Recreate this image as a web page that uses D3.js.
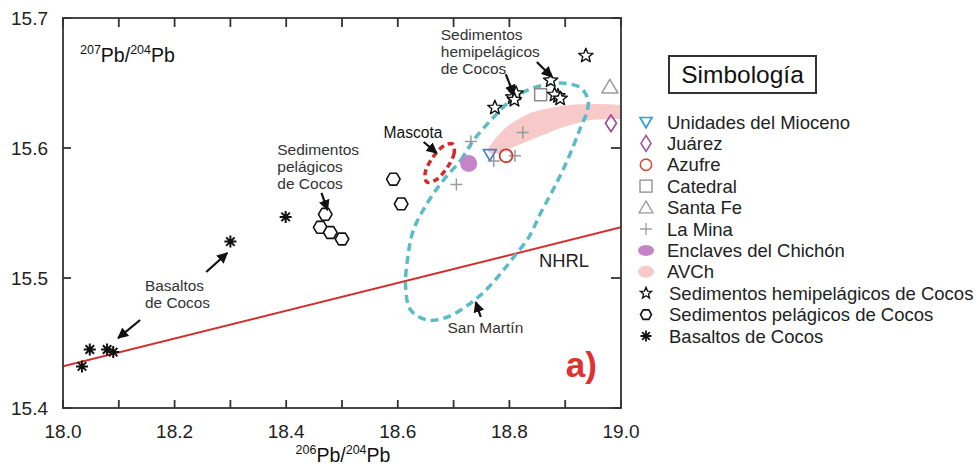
<!DOCTYPE html>
<html><head><meta charset="utf-8">
<script src="https://cdn.jsdelivr.net/npm/d3@7"></script>
<style>body{margin:0;background:#fff;}svg{display:block;font-family:"Liberation Sans",Arial,sans-serif;}</style>
</head><body>
<svg id="c" width="979" height="467"></svg>
<script>
// ---------- data ----------
const xTickLabels = ["18.0","18.2","18.4","18.6","18.8","19.0"];
const xTickValues = [18.0,18.1,18.2,18.3,18.4,18.5,18.6,18.7,18.8,18.9,19.0];
const yTickLabels = ["15.4","15.5","15.6","15.7"];

const basaltos = [[18.034,15.432],[18.048,15.445],[18.079,15.445],[18.090,15.443],[18.300,15.528],[18.399,15.547]];
const pelagicos = [[18.470,15.549],[18.461,15.539],[18.479,15.535],[18.500,15.530],[18.592,15.576],[18.606,15.557]];
const hemipelagicos = [[18.937,15.671],[18.874,15.652],[18.806,15.639],[18.812,15.642],[18.809,15.637],[18.887,15.640],[18.881,15.641],[18.891,15.638],[18.774,15.631]];
const mioceno = [[18.765,15.595]];
const juarez = [[18.982,15.619]];
const azufre = [[18.794,15.594]];
const catedral = [[18.856,15.641]];
const santaFe = [[18.980,15.647]];
const laMina = [[18.731,15.605],[18.824,15.612],[18.810,15.594],[18.772,15.590],[18.705,15.572]];
const enclaves = [[18.727,15.588]];
const avch = [[18.761,15.5985],[18.776,15.6077],[18.797,15.6169],[18.838,15.6269],[18.892,15.6323],[18.946,15.6338],[19.009,15.6323],[19.009,15.6231],[18.946,15.6215],[18.892,15.6154],[18.838,15.6062],[18.794,15.5985],[18.770,15.5954]];
const sanMartin = [[18.682,15.5754],[18.713,15.5908],[18.736,15.6062],[18.767,15.6215],[18.803,15.6369],[18.833,15.6446],[18.863,15.6485],[18.892,15.6500],[18.928,15.6462],[18.941,15.6369],[18.939,15.6277],[18.928,15.6162],[18.914,15.6008],[18.896,15.5831],[18.878,15.5677],[18.856,15.5500],[18.835,15.5315],[18.808,15.5162],[18.785,15.5038],[18.758,15.4908],[18.731,15.4808],[18.689,15.4700],[18.653,15.4677],[18.623,15.4754],[18.614,15.4931],[18.618,15.5162],[18.628,15.5369],[18.653,15.5577]];
const mascota = [[18.698,15.6031],[18.701,15.5962],[18.688,15.5846],[18.668,15.5754],[18.652,15.5738],[18.649,15.5808],[18.662,15.5923],[18.682,15.6015]];
const nhrl = [[18.0,15.432],[19.0,15.539]];

const arrows = [
  [[18.7935,15.6569],[18.8079,15.6408]],
  [[18.8492,15.6662],[18.8761,15.6546]],
  [[18.4632,15.5654],[18.4740,15.5523]],
  [[18.6463,15.6046],[18.6697,15.5962]],
  [[18.2567,15.5046],[18.2944,15.5192]],
  [[18.1382,15.4677],[18.0987,15.4538]],
  [[18.7487,15.4700],[18.7397,15.4815]]
];
const labels = [
  {t:["Sedimentos","hemipelágicos","de Cocos"], p:[18.677,15.683], size:15.5, fill:"#333"},
  {t:["Sedimentos","pelágicos","de Cocos"], p:[18.384,15.5946], size:15.5, fill:"#333"},
  {t:["Mascota"], p:[18.5745,15.6077], size:15.6, fill:"#111"},
  {t:["Basaltos","de Cocos"], p:[18.147,15.490], size:15.4, fill:"#333"},
  {t:["NHRL"], p:[18.853,15.5085], size:18.4, fill:"#222"},
  {t:["San Martín"], p:[18.689,15.4577], size:15.5, fill:"#333"}
];
const legendItems = ["Unidades del Mioceno","Juárez","Azufre","Catedral","Santa Fe","La Mina","Enclaves del Chichón","AVCh","Sedimentos hemipelágicos de Cocos","Sedimentos pelágicos de Cocos","Basaltos de Cocos"];

// ---------- drawing ----------
const svg = d3.select("#c");
const L=63,R=621,T=18,B=408;
const x = d3.scaleLinear().domain([18,19]).range([L,R]);
const y = d3.scaleLinear().domain([15.4,15.7]).range([B,T]);

const defs = svg.append("defs");
defs.append("clipPath").attr("id","clip").append("rect").attr("x",L).attr("y",T).attr("width",R-L).attr("height",B-T);
defs.append("marker").attr("id","ah").attr("viewBox","0 0 10 10").attr("refX",9).attr("refY",5)
  .attr("markerWidth",5).attr("markerHeight",5).attr("orient","auto").attr("markerUnits","strokeWidth")
  .append("path").attr("d","M0,0L10,5L0,10z").attr("fill","#111");

const plot = svg.append("g").attr("clip-path","url(#clip)");

// symbol generators
function starPath(ro,ri){let p=[];for(let i=0;i<10;i++){const a=-Math.PI/2+i*Math.PI/5;const r=i%2?ri:ro;p.push([r*Math.cos(a),r*Math.sin(a)]);}return "M"+p.map(d=>d.join(",")).join("L")+"Z";}
function hexPath(r){let p=[];for(let i=0;i<6;i++){const a=i*Math.PI/3;p.push([r*Math.cos(a),r*Math.sin(a)*1.0]);}return "M"+p.map(d=>d.join(",")).join("L")+"Z";}
function asteriskPath(r){let s="";for(let i=0;i<4;i++){const a=i*Math.PI/4;s+=`M${-r*Math.cos(a)},${-r*Math.sin(a)}L${r*Math.cos(a)},${r*Math.sin(a)}`;}return s;}
function triDown(s){return `M${-s},${-s*0.75}L${s},${-s*0.75}L0,${s*0.95}Z`;}
function triUp(s){return `M0,${-s*0.95}L${s},${s*0.75}L${-s},${s*0.75}Z`;}
function diamond(w,h){return `M0,${-h}L${w},0L0,${h}L${-w},0Z`;}
function crossPath(r){return `M${-r},0L${r},0M0,${-r}L0,${r}`;}

// AVCh area
plot.append("path").datum(avch).attr("d",d3.line().x(d=>x(d[0])).y(d=>y(d[1])).curve(d3.curveCardinalClosed.tension(0.3)))
  .attr("fill","#f7c9c9").attr("stroke","none");

// NHRL
plot.append("path").datum(nhrl).attr("d",d3.line().x(d=>x(d[0])).y(d=>y(d[1])))
  .attr("stroke","#d42d2d").attr("stroke-width",2).attr("fill","none");

// San Martín
plot.append("path").datum(sanMartin).attr("d",d3.line().x(d=>x(d[0])).y(d=>y(d[1])).curve(d3.curveCatmullRomClosed))
  .attr("fill","none").attr("stroke","#5bbcc6").attr("stroke-width",3.5).attr("stroke-dasharray","8,5");

// Mascota
plot.append("path").datum(mascota).attr("d",d3.line().x(d=>x(d[0])).y(d=>y(d[1])).curve(d3.curveCatmullRomClosed))
  .attr("fill","none").attr("stroke","#d42a2a").attr("stroke-width",3.5).attr("stroke-dasharray","6,4");

// Enclaves
plot.selectAll(".enc").data(enclaves).join("circle").attr("cx",d=>x(d[0])).attr("cy",d=>y(d[1])).attr("r",8.5).attr("fill","#c485c8");

function pts(data,d,style){
  const g=plot.append("g");
  g.selectAll("path").data(data).join("path").attr("transform",p=>`translate(${x(p[0])},${y(p[1])})`).attr("d",d)
   .attr("fill",style.fill||"none").attr("stroke",style.stroke).attr("stroke-width",style.sw||1.5).attr("stroke-linejoin","round");
}
pts(laMina,crossPath(6),{stroke:"#9a9a9a",sw:1.5});
pts(mioceno,triDown(6.5),{stroke:"#4a7cc0",sw:1.7,fill:"none"});
pts(azufre,d3.symbol(d3.symbolCircle,130)(),{stroke:"#d23b35",sw:1.8});
pts(catedral,"M-6,-6H6V6H-6Z",{stroke:"#8a8a8a",sw:1.5});
pts(santaFe,triUp(8),{stroke:"#9a9a9a",sw:1.5});
pts(juarez,diamond(5.5,8.5),{stroke:"#9b4c9b",sw:1.6});
pts(hemipelagicos,starPath(7.5,3.2),{stroke:"#111",sw:1.4,fill:"#fff"});
pts(pelagicos,hexPath(6.8),{stroke:"#111",sw:1.6,fill:"#fff"});
pts(basaltos,asteriskPath(6),{stroke:"#111",sw:2});

// arrows
svg.append("g").selectAll("line").data(arrows).join("line")
  .attr("x1",d=>x(d[0][0])).attr("y1",d=>y(d[0][1])).attr("x2",d=>x(d[1][0])).attr("y2",d=>y(d[1][1]))
  .attr("stroke","#111").attr("stroke-width",2.2).attr("marker-end","url(#ah)");

// labels
labels.forEach(l=>{
  const t=svg.append("text").attr("x",x(l.p[0])).attr("y",y(l.p[1])).attr("font-size",l.size).attr("fill",l.fill);
  l.t.forEach((s,i)=>t.append("tspan").attr("x",x(l.p[0])).attr("dy",i?l.size*1.1:0).text(s));
});
svg.append("text").attr("x",x(18.901)).attr("y",y(15.4238)).attr("font-size",35).attr("font-weight","bold").attr("fill","#e0302f").text("a)");

// frame & ticks
svg.append("rect").attr("x",L).attr("y",T).attr("width",R-L).attr("height",B-T).attr("fill","none").attr("stroke","#333").attr("stroke-width",1.8);
const tk=svg.append("g").attr("stroke","#333").attr("stroke-width",1.8);
xTickValues.forEach(v=>{
  tk.append("line").attr("x1",x(v)).attr("x2",x(v)).attr("y1",B).attr("y2",B-8);
  tk.append("line").attr("x1",x(v)).attr("x2",x(v)).attr("y1",T).attr("y2",T+9);
});
yTickLabels.forEach(s=>{const v=+s;
  tk.append("line").attr("x1",L).attr("x2",L+8).attr("y1",y(v)).attr("y2",y(v));
  tk.append("line").attr("x1",R).attr("x2",R-10).attr("y1",y(v)).attr("y2",y(v));
});
svg.append("g").selectAll("text").data(xTickLabels).join("text").attr("x",d=>x(+d)).attr("y",438).attr("text-anchor","middle")
  .attr("font-size",19).attr("fill","#222").text(d=>d);
svg.append("g").selectAll("text").data(yTickLabels).join("text").attr("x",48).attr("y",d=>y(+d)+7).attr("text-anchor","end")
  .attr("font-size",19).attr("fill","#222").text(d=>d);

function isoLabel(tx,ty,a,b,anchor){
  const t=svg.append("text").attr("x",tx).attr("y",ty).attr("font-size",19.5).attr("fill","#111").attr("text-anchor",anchor||"start");
  t.append("tspan").attr("font-size",12.5).attr("dy",-8).text(a);
  t.append("tspan").attr("dy",8).text("Pb/");
  t.append("tspan").attr("font-size",12.5).attr("dy",-8).text(b);
  t.append("tspan").attr("dy",8).text("Pb");
}
isoLabel(80,62,"207","204");
isoLabel(343,462,"206","204","middle");

// legend
const lg=svg.append("g");
lg.append("rect").attr("x",669).attr("y",56).attr("width",147).attr("height",37).attr("fill","none").attr("stroke","#333").attr("stroke-width",2);
lg.append("text").attr("x",742.5).attr("y",83).attr("text-anchor","middle").attr("font-size",24.5).attr("fill","#111").text("Simbología");
const ly=d3.scaleLinear().domain([0,10]).range([122,336]);
const legSym=[
  {d:triDown(6),stroke:"#2aa3d8",sw:1.7},
  {d:diamond(5,8),stroke:"#9b4c9b",sw:1.5},
  {d:d3.symbol(d3.symbolCircle,100)(),stroke:"#d24a3e",sw:1.6},
  {d:"M-6,-6H6V6H-6Z",stroke:"#8a8a8a",sw:1.3},
  {d:triUp(7),stroke:"#9a9a9a",sw:1.3},
  {d:crossPath(6),stroke:"#a0a0a0",sw:1.3},
  {d:"M-8,0A8,5.5 0 1,0 8,0A8,5.5 0 1,0 -8,0Z",fill:"#c485c8"},
  {d:"M-8,0A8,6 0 1,0 8,0A8,6 0 1,0 -8,0Z",fill:"#f7c9c9"},
  {d:starPath(6,2.6),stroke:"#111",sw:1.3,fill:"#fff"},
  {d:hexPath(5.5),stroke:"#111",sw:1.6,fill:"#fff"},
  {d:asteriskPath(5.5),stroke:"#111",sw:1.8}
];
legendItems.forEach((s,i)=>{
  const sy=legSym[i];
  lg.append("path").attr("transform",`translate(646,${ly(i)})`).attr("d",sy.d).attr("fill",sy.fill||"none")
    .attr("stroke",sy.stroke||"none").attr("stroke-width",sy.sw||0);
  lg.append("text").attr("x",i>=8?669:667).attr("y",ly(i)+6.5).attr("font-size",18.5).attr("fill","#222").text(s);
});
</script>
</body></html>
